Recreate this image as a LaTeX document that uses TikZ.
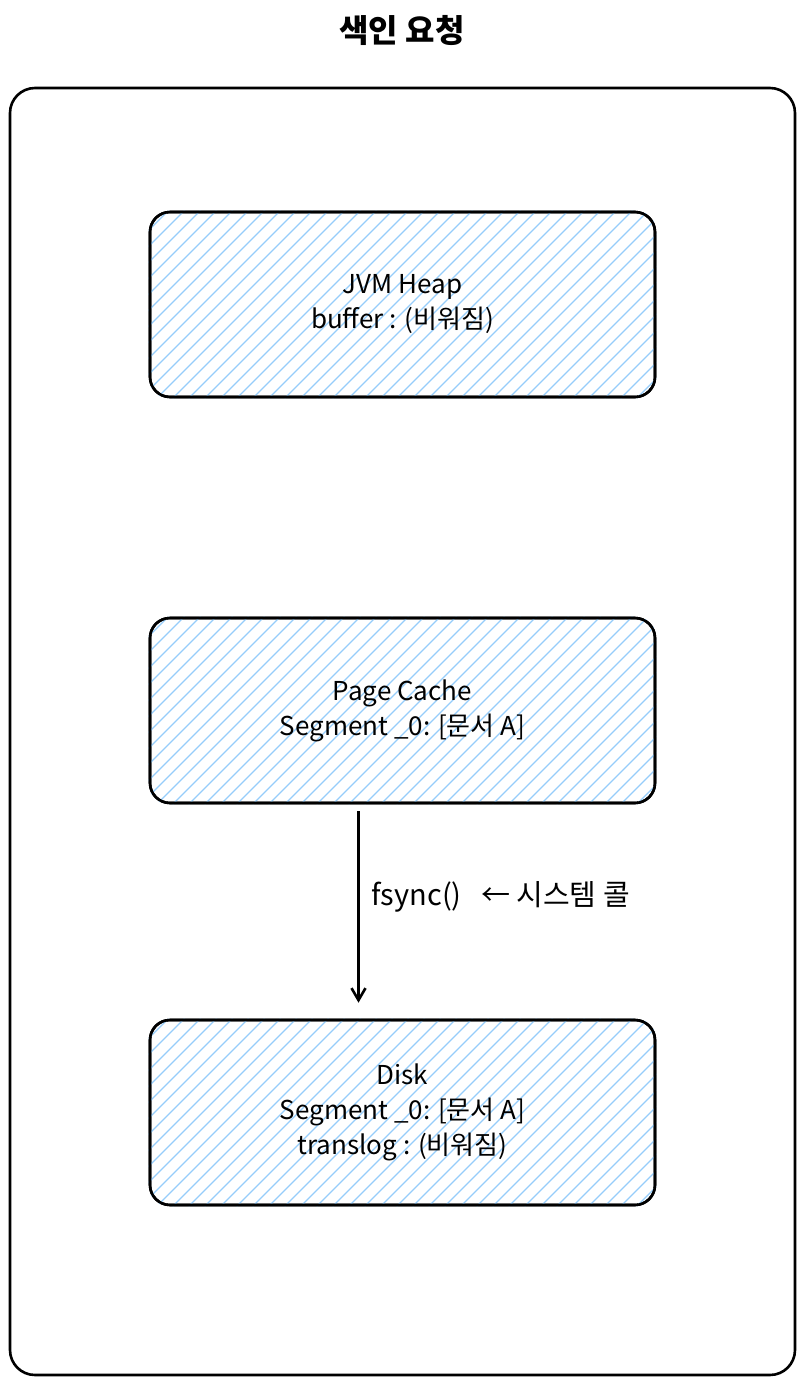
\documentclass[tikz,border=0pt]{standalone}
\usepackage{fontspec}
\setmainfont{Noto Sans CJK KR}
\usetikzlibrary{positioning,calc,arrows.meta}
\definecolor{hatch}{RGB}{150,205,250}
\tikzset{
  box/.style={draw=black,line width=2.6pt,rounded corners=20pt,minimum width=505pt,minimum height=185pt,align=center,font=\fontsize{26}{35}\selectfont},
}
\newcommand{\hatchbox}[1]{%
  \begin{scope}
    \clip[rounded corners=20pt] (#1.south west) rectangle (#1.north east);
    \foreach \k in {-200,-184,...,700}
      \draw[hatch,line width=1.3pt] ($(#1.south west)+(\k,0)$) -- ++(200,-200);
  \end{scope}}
\begin{document}
\begin{tikzpicture}[x=1pt,y=-1pt]
    \useasboundingbox (0,0) rectangle (804,1385);

    % title and frame
    \node (title) at (402,30) {\fontsize{32}{36}\selectfont\bfseries 색인 요청};
    \draw[line width=2.6pt,rounded corners=25pt] (10,88) rectangle (795,1375);

    % boxes
    \node[box] (heap) at (402.5,304.5) {};
    \hatchbox{heap}
    \node[box] at (heap) {JVM Heap\\buffer : (비워짐)};

    \node[box] (cache) at (402.5,710.5) {};
    \hatchbox{cache}
    \node[box] at (cache) {Page Cache\\Segment \_0: [문서 A]};

    \node[box] (disk) at (402.5,1112.5) {};
    \hatchbox{disk}
    \node[box] at (disk) {Disk\\Segment \_0: [문서 A]\\translog : (비워짐)};

    % fsync arrow
    \draw[line width=2.6pt,-{Straight Barb[length=12pt,width=14pt]}] ($(cache.south)+(-44,7)$) coordinate (a) -- ($(disk.north)+(-44,-16)$) coordinate (b);
    \node[anchor=west,font=\fontsize{29}{34}\selectfont] (call) at (368,897) {fsync()~~~← 시스템 콜};
\end{tikzpicture}
\end{document}
